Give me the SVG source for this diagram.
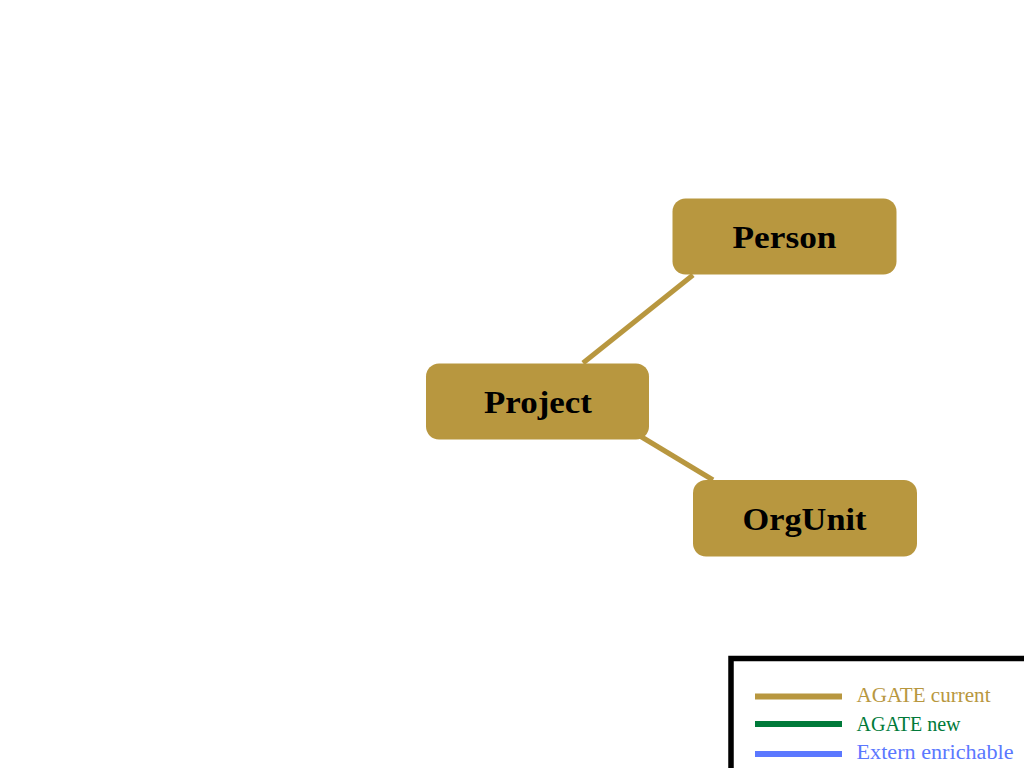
<svg xmlns="http://www.w3.org/2000/svg" width="1024" height="768" viewBox="0 0 1024 768">
<style>
.node rect{fill:#B8973F;}
.node text{font-family:"Liberation Serif","DejaVu Serif",serif;font-weight:bold;font-size:32px;fill:#000;text-anchor:middle;}
.edge{stroke:#B8973F;stroke-width:5;fill:none;}
.leg text{font-family:"Liberation Serif","DejaVu Serif",serif;font-size:20px;}
.leg line{stroke-width:6;}
</style>
<rect width="1024" height="768" fill="#fff"/>
<g id="connectors">
<line class="edge" x1="583" y1="363" x2="693" y2="275"/>
<line class="edge" x1="640" y1="436" x2="713" y2="480"/>
</g>
<g id="node-person" class="node">
<rect x="672.5" y="198.5" width="224" height="76" rx="13"/>
<text x="784.5" y="248" textLength="104" lengthAdjust="spacingAndGlyphs">Person</text>
</g>
<g id="node-project" class="node">
<rect x="426" y="363.5" width="223" height="76" rx="13"/>
<text x="538" y="412.5" textLength="108" lengthAdjust="spacingAndGlyphs">Project</text>
</g>
<g id="node-orgunit" class="node">
<rect x="693" y="480" width="224" height="76.5" rx="13"/>
<text x="804.5" y="530" textLength="124" lengthAdjust="spacingAndGlyphs">OrgUnit</text>
</g>
<g id="legend" class="leg">
<rect x="731" y="658.5" width="320" height="140" fill="#fff" stroke="#000" stroke-width="5.5"/>
<line x1="755" y1="696.5" x2="842" y2="696.5" stroke="#B8973F"/>
<line x1="755" y1="724" x2="842" y2="724" stroke="#007A3A"/>
<line x1="755" y1="754" x2="842" y2="754" stroke="#5B78FF"/>
<text x="856.5" y="702" fill="#B8973F" textLength="134" lengthAdjust="spacingAndGlyphs">AGATE current</text>
<text x="856.5" y="731" fill="#007A3A" textLength="104" lengthAdjust="spacingAndGlyphs">AGATE new</text>
<text x="856.5" y="759" fill="#5B78FF" textLength="157" lengthAdjust="spacingAndGlyphs">Extern enrichable</text>
</g>
</svg>
